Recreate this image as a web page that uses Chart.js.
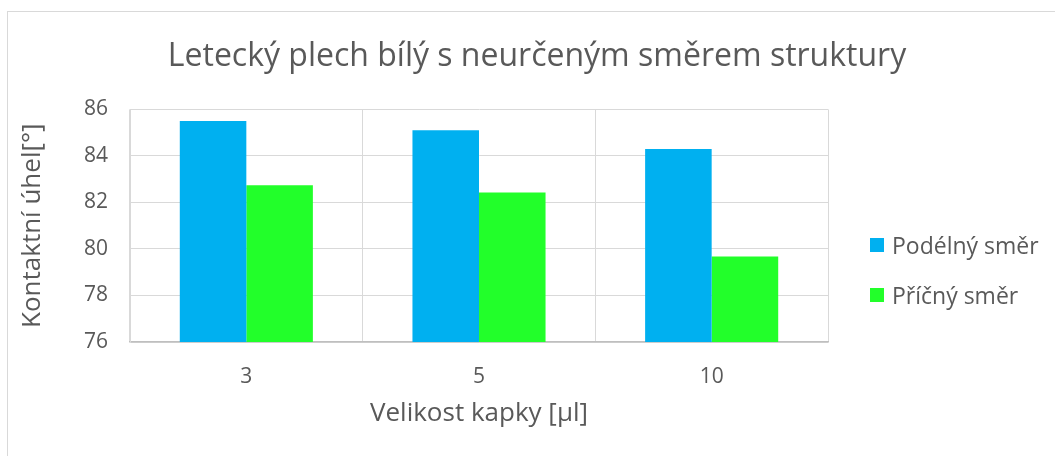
<!DOCTYPE html>
<html>
<head>
<meta charset="utf-8">
<script src="https://cdn.jsdelivr.net/npm/chart.js@4/dist/chart.umd.min.js"></script>
<style>
    html, body { margin: 0; padding: 0; background: #fff; overflow: hidden; }
    body { width: 1055px; height: 456px; position: relative; font-family: "Open Sans", sans-serif; }
    #frame { position: absolute; left: 7px; top: 11px; width: 1100px; height: 500px; border-left: 1px solid #d9d9d9; border-top: 1px solid #d9d9d9; }
    #wrap { position: absolute; left: 8px; top: 12px; width: 1058px; height: 444px; }
    #legend { position: absolute; left: 870px; top: 229px; color: #595959; font-size: 23px; }
    .item { display: flex; align-items: center; height: 32px; margin-bottom: 18px; }
    .box { width: 14px; height: 14px; margin-right: 8px; }
</style>
</head>
<body>
<div id="frame"></div>
<div id="wrap"><canvas id="contactChart"></canvas></div>
<div id="legend"></div>
<script>
// Drop sizes (categories) and measured contact angles
const categories = ['3', '5', '10'];
const podelny = [85.5, 85.1, 84.3];
const pricny = [82.74, 82.43, 79.68];
const seriesNames = ['Podélný směr', 'Příčný směr'];
const seriesColors = ['#00b0f0', '#22ff2a'];
const yTicks = [76, 78, 80, 82, 84, 86];

const textColor = '#595959';
const fontFamily = '"Open Sans", sans-serif';

const ctx = document.getElementById('contactChart').getContext('2d');

new Chart(ctx, {
    type: 'bar',
    data: {
        labels: categories,
        datasets: [{
            label: seriesNames[0],
            data: podelny,
            backgroundColor: seriesColors[0],
            categoryPercentage: 0.572,
            barPercentage: 1.0
        }, {
            label: seriesNames[1],
            data: pricny,
            backgroundColor: seriesColors[1],
            categoryPercentage: 0.572,
            barPercentage: 1.0
        }]
    },
    options: {
        responsive: true,
        maintainAspectRatio: false,
        animation: false,
        plugins: {
            legend: { display: false }, // custom legend below
            tooltip: { enabled: false },
            title: {
                display: true,
                text: 'Letecký plech bílý s neurčeným směrem struktury',
                color: textColor,
                font: { family: fontFamily, size: 32, weight: 'normal' },
                padding: { top: 26, bottom: 33 }
            }
        },
        scales: {
            x: {
                grid: { color: '#d9d9d9', lineWidth: 1, drawTicks: false, offset: true },
                border: { color: '#bfbfbf', width: 1.5 },
                ticks: {
                    color: textColor,
                    font: { family: fontFamily, size: 21 },
                    padding: 22
                },
                title: {
                    display: true,
                    text: 'Velikost kapky [µl]',
                    color: textColor,
                    font: { family: fontFamily, size: 26 },
                    padding: { top: 0, bottom: 27 }
                },
                afterFit: function (axis) { axis.height = 114; }
            },
            y: {
                min: yTicks[0],
                max: yTicks[yTicks.length - 1],
                afterBuildTicks: function (axis) {
                    axis.ticks = yTicks.map(v => ({ value: v }));
                },
                grid: { color: '#d9d9d9', lineWidth: 1, drawTicks: false },
                border: { color: '#d9d9d9', width: 1 },
                ticks: {
                    color: textColor,
                    font: { family: fontFamily, size: 21 },
                    padding: 22
                },
                title: {
                    display: true,
                    text: 'Kontaktní úhel[°]',
                    color: textColor,
                    font: { family: fontFamily, size: 26 },
                    padding: { top: 9, bottom: 0 }
                },
                afterFit: function (axis) { axis.width = 122; }
            },
            // empty axis on the right leaves room for the legend
            y2: {
                position: 'right',
                grid: { display: false },
                border: { display: false },
                ticks: { display: false },
                afterFit: function (axis) { axis.width = 238; }
            }
        }
    }
});

// Build custom legend
document.getElementById('legend').innerHTML = seriesNames.map((name, i) => `
    <div class="item">
        <div class="box" style="background-color: ${seriesColors[i]};"></div>
        <span>${name}</span>
    </div>
`).join('');
</script>
</body>
</html>
